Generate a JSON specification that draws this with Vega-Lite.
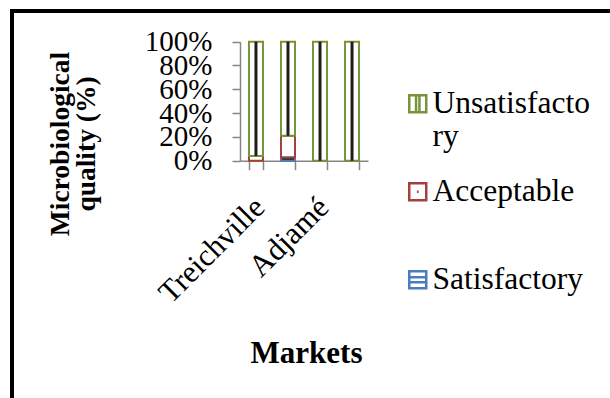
{
  "$schema": "https://vega.github.io/schema/vega-lite/v6.json",
  "width": 620,
  "height": 400,
  "autosize": {"type": "none"},
  "padding": {"left": 12, "top": 11, "right": 0, "bottom": 0},
  "background": "white",
  "config": {
    "view": {"stroke": "#000000", "strokeWidth": 4},
    "font": "Liberation Serif",
    "axis": {
      "domainColor": "#868686",
      "tickColor": "#868686",
      "domainWidth": 1.5,
      "tickWidth": 1.5,
      "grid": false,
      "labelFont": "Liberation Serif",
      "titleFont": "Liberation Serif",
      "labelColor": "#000000",
      "titleColor": "#000000"
    },
    "legend": {
      "labelFont": "Liberation Serif",
      "labelFontSize": 31.5,
      "labelColor": "#000000",
      "labelLimit": 400
    }
  },
  "data": {
    "values": [
      {"market": "Treichville", "status": "Satisfactory", "rank": 1, "percent": 0},
      {"market": "Treichville", "status": "Acceptable", "rank": 2, "percent": 4},
      {"market": "Treichville", "status": "Unsatisfactory", "rank": 3, "percent": 96},
      {"market": "Treichville (2)", "status": "Satisfactory", "rank": 1, "percent": 3},
      {"market": "Treichville (2)", "status": "Acceptable", "rank": 2, "percent": 18},
      {"market": "Treichville (2)", "status": "Unsatisfactory", "rank": 3, "percent": 79},
      {"market": "Adjamé", "status": "Satisfactory", "rank": 1, "percent": 0},
      {"market": "Adjamé", "status": "Acceptable", "rank": 2, "percent": 0},
      {"market": "Adjamé", "status": "Unsatisfactory", "rank": 3, "percent": 100},
      {"market": "Adjamé (2)", "status": "Satisfactory", "rank": 1, "percent": 0},
      {"market": "Adjamé (2)", "status": "Acceptable", "rank": 2, "percent": 0},
      {"market": "Adjamé (2)", "status": "Unsatisfactory", "rank": 3, "percent": 100}
    ]
  },
  "transform": [{"filter": "datum.percent > 0"}],
  "encoding": {
    "x": {
      "field": "market",
      "type": "nominal",
      "sort": null,
      "scale": {"type": "band", "range": [228, 356], "paddingInner": 0.5625, "paddingOuter": 0.28},
      "axis": {
        "orient": "bottom",
        "offset": -250.3,
        "tickBand": "extent",
        "tickSize": 9,
        "labelAngle": -45,
        "labelFontSize": 31,
        "labelPadding": 22,
        "labelOffset": -7,
        "labelLimit": 400,
        "labelOverlap": false,
        "labelExpr": "indexof(datum.label, '(') < 0 ? datum.label : ''",
        "title": "Markets",
        "titleFontSize": 31,
        "titleFontWeight": "bold",
        "titleX": 294,
        "titleY": 202,
        "titleBaseline": "alphabetic",
        "titleAlign": "center"
      }
    },
    "y": {
      "field": "percent",
      "type": "quantitative",
      "stack": "zero",
      "scale": {"domain": [0, 100], "range": [149.7, 30.7], "nice": false},
      "axis": {
        "orient": "left",
        "offset": -228,
        "values": [0, 20, 40, 60, 80, 100],
        "labelExpr": "datum.value + '%'",
        "labelFontSize": 29,
        "labelPadding": 20,
        "labelOverlap": false,
        "tickSize": 8,
        "title": ["Microbiological", "quality (%)"],
        "titleFontSize": 27.5,
        "titleFontWeight": "bold",
        "titleAngle": 270,
        "titleX": -180,
        "titleY": 132.5,
        "titleBaseline": "middle",
        "titleAlign": "center",
        "titleLineHeight": 26
      }
    },
    "order": {"field": "rank", "type": "quantitative"}
  },
  "layer": [
    {
      "mark": {"type": "bar", "strokeWidth": 2},
      "encoding": {
        "stroke": {
          "field": "status",
          "type": "nominal",
          "scale": {"domain": ["Unsatisfactory", "Acceptable", "Satisfactory"], "range": ["#77933C", "#A5403D", "#4A7EBB"]},
          "legend": {
            "orient": "none",
            "legendX": 390,
            "legendY": 77,
            "title": null,
            "padding": 0,
            "symbolSize": 289,
            "symbolStrokeWidth": 2.5,
            "symbolFillColor": "#ffffff",
            "labelFont": "Liberation Serif",
            "labelFontSize": 31.5,
            "labelColor": "#000000",
            "labelOffset": -1,
            "labelLimit": 400,
            "rowPadding": 22,
            "labelExpr": "datum.label === 'Unsatisfactory' ? ['Unsatisfacto', 'ry'] : [datum.label, '']",
            "encode": {
              "labels": {
                "update": {
                  "lineHeight": {"value": 35},
                  "dy": {"value": 17.5}
                }
              }
            }
          }
        },
        "fill": {
          "condition": {"test": "datum.status === 'Satisfactory'", "value": "#222222"},
          "value": "#ffffff"
        }
      }
    },
    {
      "mark": {"type": "bar", "size": 3},
      "encoding": {
        "fill": {
          "condition": {"test": "datum.status === 'Unsatisfactory'", "value": "#1e1e1e"},
          "value": "transparent"
        }
      }
    },
    {
      "mark": {"type": "point", "filled": false, "opacity": 0, "size": 289},
      "encoding": {
        "y": {"field": "percent", "type": "quantitative", "stack": null},
        "stroke": {
          "field": "status",
          "type": "nominal"
        },
        "shape": {
          "field": "status",
          "type": "nominal",
          "scale": {
            "domain": ["Unsatisfactory", "Acceptable", "Satisfactory"],
            "range": [
              "M-1,-1H1V1H-1ZM-0.2,-1V1M0.2,-1V1",
              "M-1,-1H1V1H-1ZM-0.1,0H0.1",
              "M-1,-1H1V1H-1ZM-1,-0.3H1M-1,0.3H1"
            ]
          },
          "legend": {
            "orient": "none",
            "legendX": 390,
            "legendY": 77,
            "title": null
          }
        }
      }
    }
  ]
}
